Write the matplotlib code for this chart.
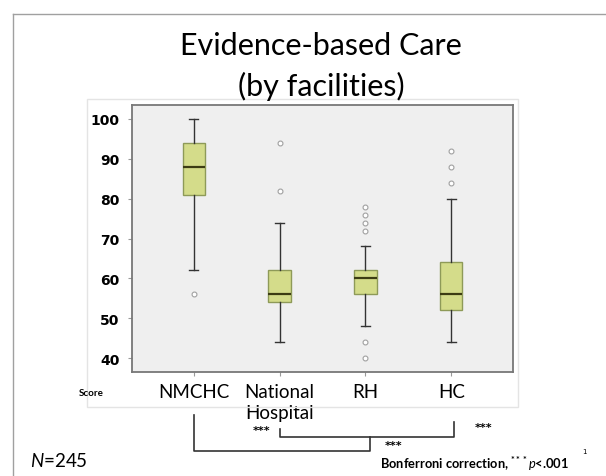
import matplotlib
matplotlib.use("Agg")
import matplotlib.pyplot as plt
from matplotlib.patches import Rectangle
from matplotlib.lines import Line2D
import matplotlib.transforms as mtrans

# values
facilities = ["NMCHC", "National\nHospital", "RH", "HC"]
q1 = [81, 54, 56, 52]
median = [88, 56, 60, 56]
q3 = [94, 62, 62, 64]
whis_lo = [62, 44, 48, 44]
whis_hi = [100, 74, 68, 80]
outliers = [[56], [82, 94], [40, 44, 72, 74, 76, 78], [84, 88, 92]]
y_ticks = [40, 50, 60, 70, 80, 90, 100]

plt.rcParams["mathtext.fontset"] = "custom"
plt.rcParams["mathtext.rm"] = "Lato:bold"
plt.rcParams["mathtext.it"] = "Lato:italic"
plt.rcParams["mathtext.bf"] = "Lato:bold"

W, H = 606, 477
fig = plt.figure(figsize=(W / 100, H / 100), dpi=100)
fig.patch.set_facecolor("white")

def fx(x):
    return x / W

def fy(y):
    return 1 - y / H

# slide frame
fig.add_artist(Line2D([fx(13), 1], [fy(15), fy(15)], color="#a0a0a0", lw=1))
fig.add_artist(Line2D([fx(13), fx(13)], [fy(15), 0], color="#a0a0a0", lw=1))
# faint frame of the pasted chart image
fig.add_artist(Rectangle((fx(87), fy(408)), fx(518) - fx(87), fy(100) - fy(408),
                         fill=False, ec="#e4e4e4", lw=1))

fig.text(fx(321), fy(46), "Evidence-based Care", ha="center", va="center",
         fontsize=22, family="Lato")
fig.text(fx(321), fy(86), "(by facilities)", ha="center", va="center",
         fontsize=22, family="Lato")

ax = fig.add_axes([fx(132), fy(373), fx(513) - fx(132), fy(106) - fy(373)])
ax.set_facecolor("#efefef")

stats = []
for i in range(len(facilities)):
    stats.append({"med": median[i], "q1": q1[i], "q3": q3[i],
                  "whislo": whis_lo[i], "whishi": whis_hi[i],
                  "fliers": outliers[i], "label": facilities[i]})

ax.bxp(stats, positions=range(1, 5), widths=0.26, capwidths=0.1,
       patch_artist=True,
       boxprops=dict(facecolor="#d4dc8a", edgecolor="#8e9a58", lw=1),
       medianprops=dict(color="#3c3c14", lw=1.6),
       whiskerprops=dict(color="#333333", lw=1),
       capprops=dict(color="#333333", lw=1),
       flierprops=dict(marker="o", markersize=3.5, markerfacecolor="white",
                       markeredgecolor="#a0a0a0", markeredgewidth=0.8))

ax.set_xlim(0.28, 4.72)
ax.set_ylim(36.5, 103.5)
ax.set_yticks(y_ticks)
ax.set_yticklabels([str(v) for v in y_ticks], fontsize=10, fontweight="bold",
                   family="DejaVu Sans")
ax.set_xticks(range(1, 5))
ax.set_xticklabels(facilities, fontsize=13.5, family="Lato", linespacing=1.25)
ax.tick_params(axis="y", length=3, color="#999999", pad=6)
ax.tick_params(axis="x", length=3, color="#999999", pad=5)
for s in ax.spines.values():
    s.set_color("#777777")
    s.set_linewidth(1.3)

fig.text(fx(91), fy(393), "Score", ha="center", va="center", fontsize=7,
         fontweight="bold", family="Lato")

# significance brackets
tr = mtrans.blended_transform_factory(ax.transData, fig.transFigure)
ax.add_line(Line2D([1, 1, 3.05, 3.05], [fy(416), fy(452), fy(452), fy(438)],
                   transform=tr, color="#333333", lw=1.2, clip_on=False))
ax.add_line(Line2D([2, 2, 4.03, 4.03], [fy(430), fy(438), fy(438), fy(423)],
                   transform=tr, color="#333333", lw=1.2, clip_on=False))
fig.text(fx(262), fy(431), "***", ha="center", va="center", fontsize=8,
         fontweight="bold")
fig.text(fx(394), fy(446), "***", ha="center", va="center", fontsize=8,
         fontweight="bold")
fig.text(fx(484), fy(428), "***", ha="center", va="center", fontsize=8,
         fontweight="bold")

fig.text(fx(30), fy(461), "$N$=245", ha="left", va="center", fontsize=13.5,
         family="Lato")
fig.text(fx(380), fy(464), r"Bonferroni correction, $^{\mathrm{***}}\mathit{p}$<.001",
         ha="left", va="center", fontsize=9.3, fontweight="bold", family="Lato")
fig.text(fx(584), fy(452), "1", ha="center", va="center", fontsize=5)

fig.savefig("out.png", dpi=100)
